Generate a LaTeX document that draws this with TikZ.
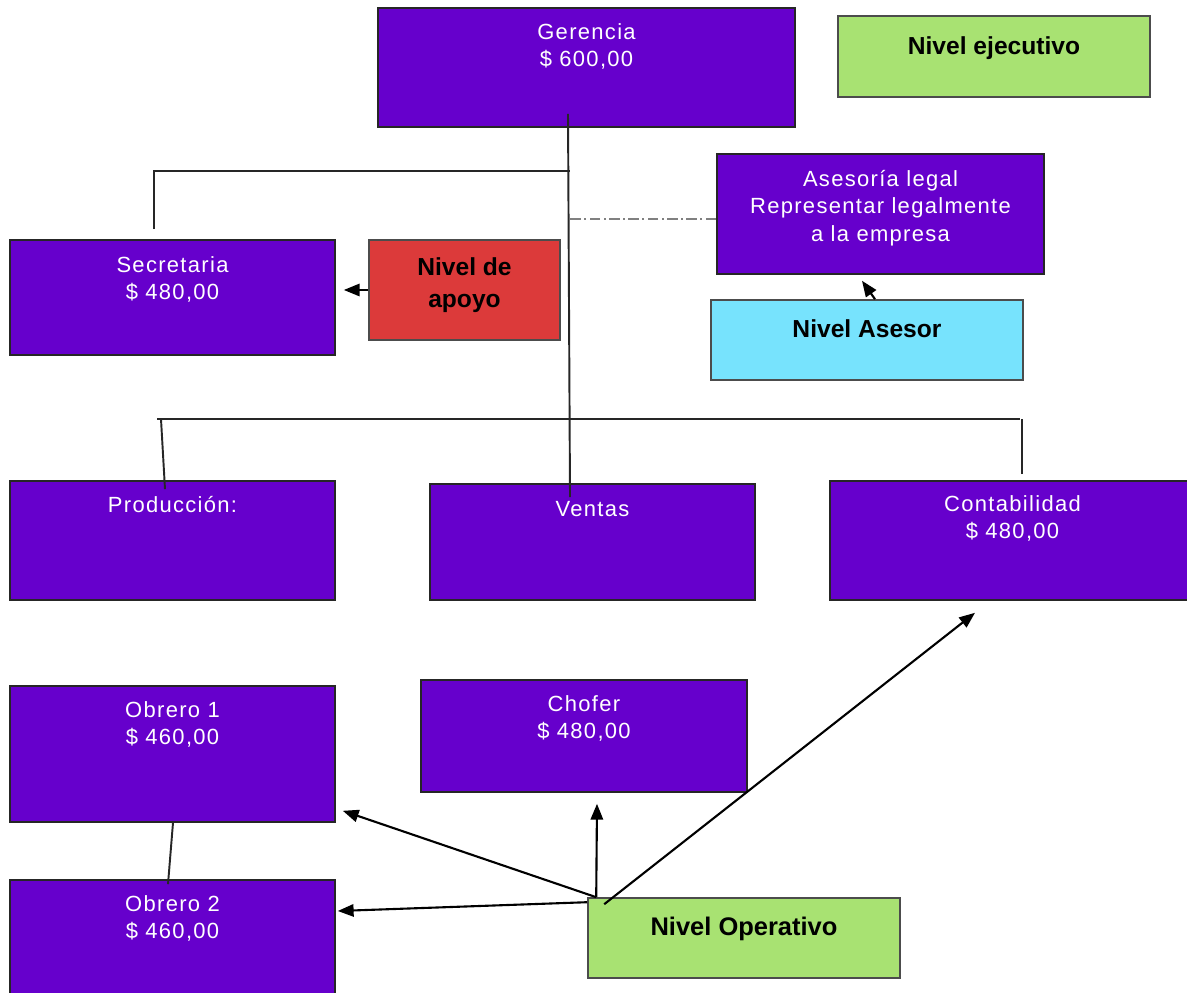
\documentclass[tikz,border=0pt]{standalone}
\usepackage{fontspec}
\setmainfont{Liberation Sans}
\newfontfamily\puestofont{Liberation Sans}[LetterSpace=6]
\usetikzlibrary{positioning, arrows.meta}

\definecolor{morado}{HTML}{6600CC}
\definecolor{nivelverde}{HTML}{A8E272}
\definecolor{nivelrojo}{HTML}{DC3A3A}
\definecolor{nivelceleste}{HTML}{77E3FD}

\tikzset{
  puesto/.style={draw=black!85, line width=0.9pt, fill=morado,
    minimum width=6.5cm, minimum height=2.3cm, inner sep=0pt},
  puestotxt/.style={inner sep=0pt, align=center, text=white,
    font=\puestofont\fontsize{12.5}{15.5}\selectfont},
  nivel/.style={draw=black!70, line width=0.9pt,
    minimum width=6.24cm, minimum height=1.6cm, inner sep=0pt},
  niveltxt/.style={inner sep=0pt, align=center,
    font=\bfseries\fontsize{14}{18.1}\selectfont},
  rama/.style={line width=1.1pt, black!85},
  enlace/.style={line width=0.6pt, gray, dash pattern=on 6pt off 2pt on 1pt off 2pt},
  flecha/.style={-{Triangle[length=9pt,width=7pt]}, line width=1.2pt},
}

\begin{document}
\begin{tikzpicture}
    \path[use as bounding box] (0,0) rectangle (23.74,19.84);
    \clip (0,0) rectangle (23.74,19.84);

    % cargos
    \node[puesto, minimum width=8.34cm, minimum height=2.38cm] (ger) at (11.73,18.49) {};
    \node[puestotxt, below=0.32cm of ger.north] (gerT) {Gerencia\\\$ 600,00};

    \node[puesto, minimum width=6.54cm, minimum height=2.4cm] (ases) at (17.61,15.56) {};
    \node[puestotxt, below=0.34cm of ases.north] (asesT) {Asesoría legal\\Representar legalmente\\a la empresa};

    \node[puesto] (secr) at (3.45,13.89) {};
    \node[puestotxt, below=0.34cm of secr.north] (secrT) {Secretaria\\\$ 480,00};

    \node[puesto, minimum height=2.38cm] (prod) at (3.45,9.03) {};
    \node[puestotxt, below=0.32cm of prod.north] (prodT) {Producción:};

    \node[puesto, minimum height=2.32cm] (vent) at (11.85,9.0) {};
    \node[puestotxt, below=0.36cm of vent.north] (ventT) {Ventas};

    \node[puesto, minimum width=7.3cm, minimum height=2.38cm] (cont) at (20.25,9.03) {};
    \node[puestotxt, below=0.3cm of cont.north] (contT) {Contabilidad\\\$ 480,00};

    \node[puesto, minimum height=2.72cm] (obr1) at (3.45,4.76) {};
    \node[puestotxt, below=0.32cm of obr1.north] (obr1T) {Obrero 1\\\$ 460,00};

    \node[puesto, minimum width=6.52cm, minimum height=2.24cm] (chof) at (11.68,5.12) {};
    \node[puestotxt, below=0.32cm of chof.north] (chofT) {Chofer\\\$ 480,00};

    \node[puesto] (obr2) at (3.45,1.09) {};
    \node[puestotxt, below=0.32cm of obr2.north] (obr2T) {Obrero 2\\\$ 460,00};

    % niveles
    \node[nivel, fill=nivelverde, minimum height=1.62cm] (ejec) at (19.88,18.71) {};
    \node[niveltxt, below=0.42cm of ejec.north] (ejecT) {Nivel ejecutivo};

    \node[nivel, fill=nivelrojo, minimum width=3.82cm, minimum height=2cm] (apoyo) at (9.29,14.04) {};
    \node[niveltxt, below=0.36cm of apoyo.north] (apoyoT) {Nivel de\\apoyo};

    \node[nivel, fill=nivelceleste] (asesor) at (17.34,13.04) {};
    \node[niveltxt, below=0.4cm of asesor.north] (asesorT) {Nivel Asesor};

    \node[nivel, fill=nivelverde] (oper) at (14.88,1.08) {};
    \node[niveltxt, font=\bfseries\fontsize{14.5}{18}\selectfont, below=0.38cm of oper.north] (operT) {Nivel Operativo};

    % lineas del organigrama
    \coordinate (tronco) at ([xshift=-0.37cm]ger.south);
    \draw[rama] ([yshift=0.28cm]tronco) -- ([xshift=-0.45cm, yshift=-0.28cm]vent.north);
    \draw[rama] ([xshift=-0.37cm, yshift=0.2cm]secr.north) |- ([xshift=-0.33cm, yshift=-0.86cm]ger.south);
    \draw[enlace] ([yshift=-0.1cm]ases.west) -- ([yshift=-0.1cm]ases.west -| tronco);
    \draw[rama] ([xshift=-0.31cm, yshift=1.22cm]prod.north) -- ([xshift=0.15cm, yshift=1.22cm]cont.north);
    \draw[rama] ([xshift=-0.15cm, yshift=-0.18cm]prod.north) -- ([xshift=-0.23cm, yshift=1.22cm]prod.north);
    \draw[rama] ([xshift=0.19cm, yshift=0.12cm]cont.north) -- ([xshift=0.19cm, yshift=1.22cm]cont.north);
    \draw[rama] ([xshift=0.01cm]obr1.south) -- ([xshift=-0.09cm, yshift=-0.1cm]obr2.north);

    % flechas de los niveles
    \draw[flecha] (apoyo.west) -- ([xshift=0.16cm]apoyo.west -| secr.east);
    \draw[flecha] ([xshift=0.16cm]asesor.north) -- ([xshift=-0.37cm, yshift=-0.12cm]ases.south);
    \coordinate (opO) at ([xshift=0.18cm]oper.north west);
    \draw[flecha] (opO) -- ([xshift=0.14cm, yshift=0.24cm]obr1.south east);
    \draw[flecha] (opO) -- ([xshift=0.26cm, yshift=-0.22cm]chof.south);
    \draw[flecha] ([xshift=0.34cm, yshift=-0.14cm]oper.north west) -- ([xshift=-0.75cm, yshift=-0.24cm]cont.south);
    \draw[flecha] ([yshift=-0.1cm]oper.north west) -- ([xshift=0.04cm, yshift=0.53cm]obr2.east);
\end{tikzpicture}
\end{document}
